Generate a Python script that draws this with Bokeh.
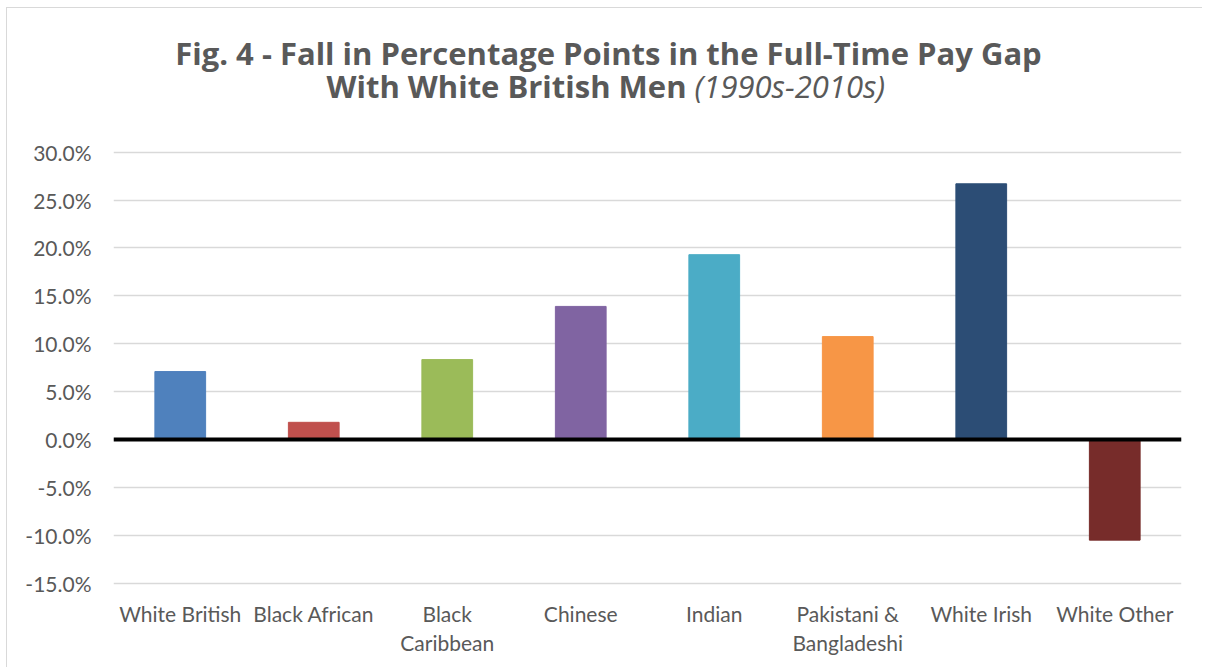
from bokeh.plotting import figure
from bokeh.models import (Range1d, FactorRange, FixedTicker, PrintfTickFormatter,
                          Span, Label, ColumnDataSource)
from bokeh.core.properties import value
from bokeh.embed import file_html
from bokeh.resources import INLINE

categories = ["White British", "Black African", "Black Caribbean", "Chinese",
              "Indian", "Pakistani & Bangladeshi", "White Irish", "White Other"]
values = [7.1, 1.8, 8.35, 13.9, 19.3, 10.75, 26.7, -10.5]
colors = ["#4F81BD", "#C0504D", "#9BBB59", "#8064A2",
          "#4BACC6", "#F79646", "#2C4D75", "#772C2A"]
tick_values = [-15, -10, -5, 0, 5, 10, 15, 20, 25, 30]
label_line1 = ["White British", "Black African", "Black", "Chinese",
               "Indian", "Pakistani &", "White Irish", "White Other"]
label_line2 = ["", "", "Caribbean", "", "", "Bangladeshi", "", ""]
title_line1 = "Fig. 4 - Fall in Percentage Points in  the Full-Time Pay Gap"
title_line2_bold = "With White British Men"
title_line2_italic = "(1990s-2010s)"

TEXT = "#595959"
FONT = "Lato"
TFONT = "Open Sans"

src = ColumnDataSource(dict(cat=categories, val=values, color=colors,
                            l1=label_line1, l2=label_line2))

p = figure(x_range=FactorRange(*categories, range_padding=0),
           y_range=Range1d(-23.9, 45),
           width=1196, height=660,
           output_backend="svg", toolbar_location=None,
           min_border_left=106, min_border_right=22,
           min_border_top=0, min_border_bottom=0)

p.vbar(x="cat", top="val", width=0.38, color="color", source=src)

p.outline_line_color = None
p.xgrid.visible = False
p.xaxis.visible = False
p.ygrid.grid_line_color = "#d9d9d9"
p.ygrid.grid_line_width = 1.5

p.yaxis.ticker = FixedTicker(ticks=tick_values)
p.yaxis.formatter = PrintfTickFormatter(format="%.1f%%")
ax = p.yaxis[0]
ax.axis_line_color = None
ax.major_tick_line_color = None
ax.minor_tick_line_color = None
ax.major_tick_out = 0
ax.major_tick_in = 0
ax.major_label_text_font = FONT
ax.major_label_text_font_size = "21px"
ax.major_label_text_color = TEXT
ax.major_label_standoff = 22

# category labels, two lines, placed below the -15% gridline
for col, off in (("l1", 30), ("l2", 59)):
    p.text(x="cat", y=-15, text=col, source=src, y_offset=off,
           text_align="center", text_baseline="middle",
           text_font=value(FONT), text_font_size=value("21px"), text_color=TEXT)

p.add_layout(Span(location=0, dimension="width", line_color="black", line_width=4))

p.add_layout(Label(x=499, y=616, x_units="screen", y_units="screen",
                   text=title_line1, text_align="center", text_baseline="alphabetic",
                   text_font=TFONT, text_font_style="bold", text_font_size="31px",
                   text_color=TEXT))
p.add_layout(Label(x=573, y=583, x_units="screen", y_units="screen",
                   text=title_line2_bold, text_align="right", text_baseline="alphabetic",
                   text_font=TFONT, text_font_style="bold", text_font_size="31px",
                   text_color=TEXT))
p.add_layout(Label(x=581, y=583, x_units="screen", y_units="screen",
                   text=title_line2_italic, text_align="left", text_baseline="alphabetic",
                   text_font=TFONT, text_font_style="italic", text_font_size="31px",
                   text_color=TEXT))

p.styles = {"margin-left": "6px", "margin-top": "7px",
            "border-left": "1px solid #d9d9d9", "border-top": "1px solid #d9d9d9"}

open("out.html", "w").write(file_html(p, INLINE))
